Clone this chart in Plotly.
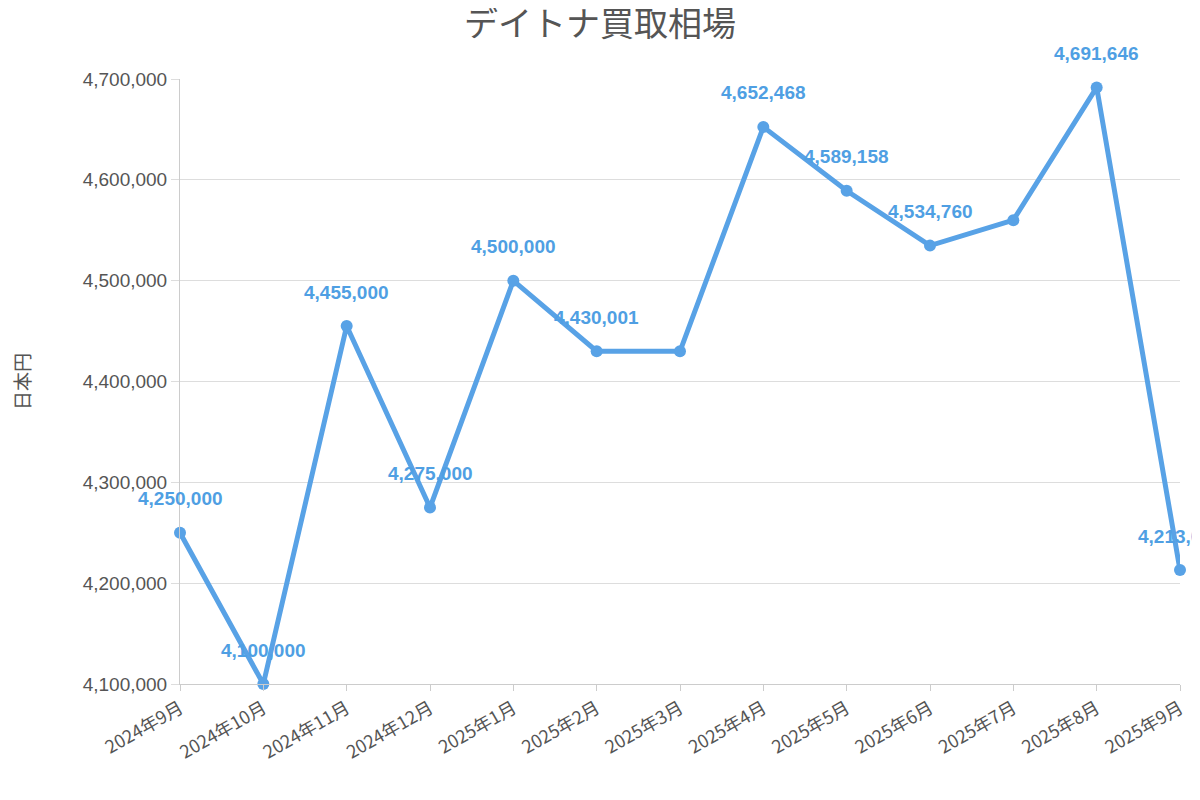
import plotly.graph_objects as go

months = ["2024年9月","2024年10月","2024年11月","2024年12月","2025年1月","2025年2月","2025年3月",
          "2025年4月","2025年5月","2025年6月","2025年7月","2025年8月","2025年9月"]
prices = [4250000, 4100000, 4455000, 4275000, 4500000, 4430001, 4430000,
          4652468, 4589158, 4534760, 4560000, 4691646, 4213000]
show_label = [True, True, True, True, True, True, False, True, True, True, False, True, True]

font = "Noto Sans CJK JP, Noto Sans, sans-serif"
xs = list(range(len(months)))

fig = go.Figure(go.Scatter(
    x=xs, y=prices, mode="lines+markers",
    line=dict(color="#58a2e6", width=5), marker=dict(color="#58a2e6", size=12),
    cliponaxis=False, hoverinfo="skip"))

for x, v, s in zip(xs, prices, show_label):
    if s:
        fig.add_annotation(x=x, y=v, text=f"{v:,}", showarrow=False, yshift=34,
                           font=dict(color="#4f9fe3", size=19, family="Liberation Sans, Arial", weight="bold"))

fig.update_layout(
    width=1184, height=784, plot_bgcolor="white", paper_bgcolor="white",
    margin=dict(l=172, r=12, t=71, b=108, autoexpand=False), showlegend=False,
    title=dict(text="デイトナ買取相場", x=0.5, xanchor="center", y=0.995, yanchor="top",
               font=dict(size=34, color="#555", family=font)),
    font=dict(family=font, color="#555"),
)
fig.update_xaxes(tickmode="array", tickvals=xs, ticktext=months,
                 range=[0, len(months)-1], tickangle=-30, tickfont=dict(size=18, color="#555"),
                 showgrid=False, showline=True, linecolor="#ccc", ticks="outside", ticklen=6, tickcolor="#ccc")
fig.update_yaxes(range=[4100000, 4700000], dtick=100000, tickformat=",d",
                 tickfont=dict(size=19, color="#555", family="Liberation Sans, Arial"),
                 gridcolor="#ddd", showline=True, linecolor="#ccc", ticks="outside", ticklen=8, tickcolor="#ddd",
                 title=dict(text="日本円", font=dict(size=19, color="#555"), standoff=50))
fig.write_html("out.html")
